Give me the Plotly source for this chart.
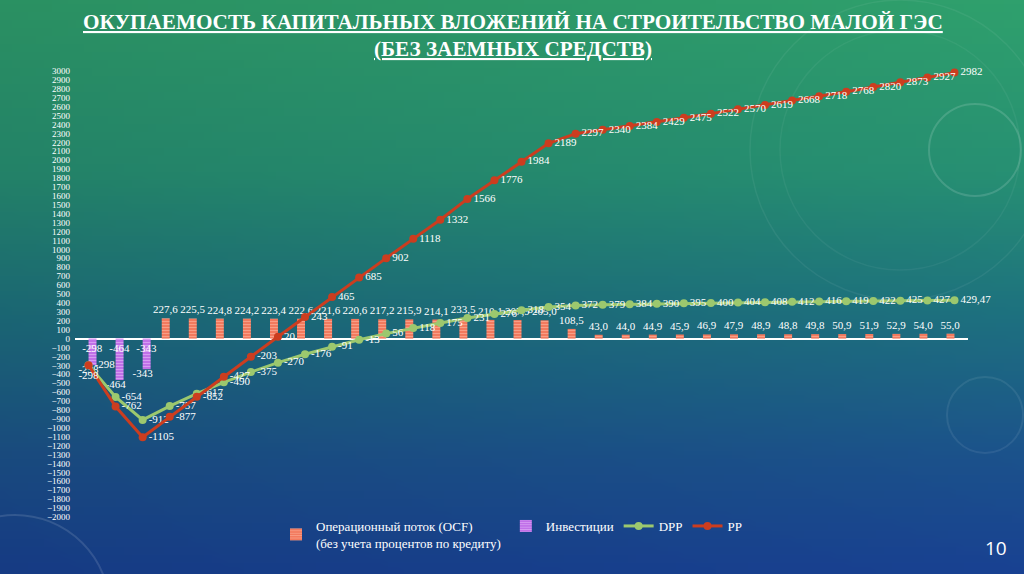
import base64, struct, zlib
import plotly.graph_objects as go

# ---------------- data ----------------
periods = list(range(1, 34))
ocf = [None, None, None,
       227.6, 225.5, 224.8, 224.2, 223.4, 222.6, 221.6, 220.6, 217.2, 215.9, 214.1,
       233.5, 210.1, 207.9, 205.0, 108.5, 43.0, 44.0, 44.9, 45.9, 46.9, 47.9, 48.9,
       48.8, 49.8, 50.9, 51.9, 52.9, 54.0, 55.0]
investments = [-298, -464, -343] + [None] * 30
dpp = [-298, -654, -912, -757, -617, -490, -375, -270, -176, -91, -13, 56, 118, 175,
       231, 276, 318, 354, 372, 379, 384, 390, 395, 400, 404, 408, 412, 416, 419, 422,
       425, 427, 429.47]
pp = [-298, -762, -1105, -877, -652, -427, -203, 20, 243, 465, 685, 902, 1118, 1332,
      1566, 1776, 1984, 2189, 2297, 2340, 2384, 2429, 2475, 2522, 2570, 2619, 2668,
      2718, 2768, 2820, 2873, 2927, 2982]
y_ticks = list(range(-2000, 3001, 100))

title_lines = ["ОКУПАЕМОСТЬ КАПИТАЛЬНЫХ ВЛОЖЕНИЙ НА СТРОИТЕЛЬСТВО МАЛОЙ ГЭС",
               "(БЕЗ ЗАЕМНЫХ СРЕДСТВ)"]
slide_number = "10"


def ru(v, dec):
    if v is None:
        return ""
    if dec == 0:
        return f"{v:.0f}"
    return f"{v:.{dec}f}".replace(".", ",")


ocf_text = [ru(v, 1) for v in ocf]
inv_text = [ru(v, 0) for v in investments]
dpp_text = [ru(v, 0) for v in dpp[:-1]] + [ru(dpp[-1], 2)]
pp_text = [ru(v, 0) for v in pp]


# ---------------- background gradient image ----------------
def make_bg(w=128, h=72):
    stops = [(0.0, (46, 156, 106)), (0.3, (38, 140, 112)), (0.55, (29, 110, 124)),
             (0.8, (27, 80, 136)), (1.0, (24, 64, 142))]

    def col(t):
        for (t0, c0), (t1, c1) in zip(stops, stops[1:]):
            if t <= t1:
                f = (t - t0) / (t1 - t0)
                return [c0[i] + (c1[i] - c0[i]) * f for i in range(3)]
        return list(stops[-1][1])

    raw = b""
    for yy in range(h):
        row = b"\x00"
        for xx in range(w):
            c = col(yy / (h - 1))
            k = 0.93 + 0.1 * (xx / (w - 1))
            row += bytes(max(0, min(255, int(ch * k))) for ch in c)
        raw += row

    def chunk(tag, data):
        return (struct.pack(">I", len(data)) + tag + data +
                struct.pack(">I", zlib.crc32(tag + data) & 0xFFFFFFFF))

    png = (b"\x89PNG\r\n\x1a\n" +
           chunk(b"IHDR", struct.pack(">IIBBBBB", w, h, 8, 2, 0, 0, 0)) +
           chunk(b"IDAT", zlib.compress(raw, 9)) + chunk(b"IEND", b""))
    return "data:image/png;base64," + base64.b64encode(png).decode()


W, H = 1024, 574
L, R, T, B = 75, 56, 71, 57
pw, ph = W - L - R, H - T - B


def px(x):
    return (x - L) / pw


def py(y):
    return (H - B - y) / ph


serif = "Liberation Serif, Times New Roman, serif"
white = "#ffffff"

fig = go.Figure()

fig.add_trace(go.Bar(
    x=periods, y=ocf, name="Операционный поток (OCF)<br>(без учета процентов по кредиту)",
    marker=dict(color="#f58a6e", line=dict(width=0),
                pattern=dict(shape="-", fgcolor="#ffc2ae", bgcolor="#f27a5e", size=3, solidity=0.35)),
    text=ocf_text, textposition="outside", cliponaxis=False, textangle=0,
    textfont=dict(family=serif, size=11, color=white), constraintext="none",
))
fig.add_trace(go.Bar(
    x=periods, y=investments, name="Инвестиции",
    marker=dict(color="#c98ae8", line=dict(width=0),
                pattern=dict(shape="-", fgcolor="#ecc8fc", bgcolor="#c070e8", size=3, solidity=0.35)),
    text=inv_text, textposition="inside", insidetextanchor="start", textangle=0,
    textfont=dict(family=serif, size=11, color=white), constraintext="none",
))
fig.add_trace(go.Scatter(
    x=periods, y=investments, mode="text", text=inv_text, textposition="bottom center",
    textfont=dict(family=serif, size=11, color=white), showlegend=False, hoverinfo="skip",
))
fig.add_trace(go.Scatter(
    x=periods, y=dpp, name="DPP", mode="lines+markers+text",
    line=dict(color="#9cc86e", width=3), marker=dict(color="#9cc86e", size=8),
    text=dpp_text, textposition="middle right",
    textfont=dict(family=serif, size=11, color=white), cliponaxis=False,
))
pp_pos = ["bottom center"] + ["middle right"] * (len(pp) - 1)
fig.add_trace(go.Scatter(
    x=periods, y=pp, name="PP", mode="lines+markers+text",
    line=dict(color="#cc3d1f", width=3), marker=dict(color="#cc3d1f", size=8),
    text=pp_text, textposition=pp_pos,
    textfont=dict(family=serif, size=11, color=white), cliponaxis=False,
))

annotations = [
    dict(text="<b><u>" + title_lines[0] + "</u></b>", x=px(513), y=py(22)),
    dict(text="<b><u>" + title_lines[1] + "</u></b>", x=px(513), y=py(49)),
]
for a in annotations:
    a.update(xref="paper", yref="paper", showarrow=False, xanchor="center", yanchor="middle",
             font=dict(family=serif, size=21.2, color=white))
annotations.append(dict(text=slide_number, xref="paper", yref="paper",
                        x=px(996), y=py(548), xanchor="center", yanchor="middle",
                        showarrow=False,
                        font=dict(family="Open Sans, sans-serif", size=19, color=white)))


# faint decorative rings of the slide template
def ring(cx, cy, r, op, wd=1.5):
    return dict(type="circle", xref="paper", yref="paper",
                x0=px(cx - r), x1=px(cx + r), y0=py(cy + r), y1=py(cy - r),
                line=dict(color=f"rgba(255,255,255,{op})", width=wd), layer="below")


shapes = [ring(975, 150, 46, 0.14, 2), ring(900, 150, 150, 0.06), ring(900, 150, 120, 0.05),
          ring(985, 415, 38, 0.08, 2), ring(15, 610, 95, 0.12, 2)]

fig.update_layout(
    width=W, height=H,
    margin=dict(l=L, r=R, t=T, b=B, autoexpand=False),
    paper_bgcolor="#1f6f80", plot_bgcolor="rgba(0,0,0,0)",
    barmode="group", bargap=0.41, bargroupgap=0,
    xaxis=dict(range=[0.5, 33.5], showticklabels=False, showgrid=False, zeroline=False,
               showline=False, ticks=""),
    yaxis=dict(range=[-2000, 3000], tickvals=y_ticks, showgrid=False, zeroline=True,
               zerolinecolor=white, zerolinewidth=2, showline=False, ticks="",
               tickfont=dict(family=serif, size=9, color=white), ticklabelstandoff=4),
    legend=dict(orientation="h", x=px(276), xanchor="left", y=py(511), yanchor="top",
                font=dict(family=serif, size=13, color=white), bgcolor="rgba(0,0,0,0)",
                traceorder="normal", itemwidth=30),
    showlegend=True,
    images=[dict(source=make_bg(), xref="paper", yref="paper",
                 x=-L / pw, y=1 + T / ph, sizex=W / pw, sizey=H / ph,
                 xanchor="left", yanchor="top", sizing="stretch", layer="below")],
    shapes=shapes,
    annotations=annotations,
)

fig.write_html("out.html", config={"displayModeBar": False},
               post_script="document.body.style.margin='0';document.body.style.overflow='hidden';")
